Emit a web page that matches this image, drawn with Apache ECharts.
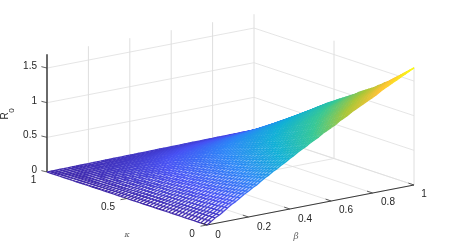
<!DOCTYPE html>
<html>
<head>
<meta charset="utf-8">
<style>html,body{margin:0;padding:0;background:#fff}#c{width:462px;height:252px}</style>
<script src="https://cdn.jsdelivr.net/npm/echarts@6/dist/echarts.min.js"></script>
</head>
<body>
<div id="c"></div>
<script>
// Tick labels
const betaTicks = [0, 0.2, 0.4, 0.6, 0.8, 1];
const kappaTicks = [0, 0.5, 1];
const zTicks = [0, 0.5, 1, 1.5];
const zMax = 1.7;
// Surface height read along the kappa = 0 edge (beta = 0, 0.02, ... 1)
const rAlongBeta = [0,0.04,0.08,0.11,0.15,0.19,0.23,0.26,0.30,0.34,0.37,0.41,0.44,0.48,0.52,0.55,0.59,0.62,0.66,0.69,0.73,0.76,0.80,0.83,0.86,0.90,0.93,0.96,1.00,1.03,1.06,1.09,1.13,1.16,1.19,1.23,1.26,1.29,1.32,1.35,1.38,1.41,1.45,1.48,1.51,1.54,1.57,1.60,1.63,1.66,1.69];
// Surface height read along the beta = 1 edge (kappa = 0, 0.02, ... 1)
const rAlongKappa = [1.69,1.65,1.61,1.57,1.53,1.49,1.45,1.41,1.37,1.34,1.30,1.27,1.23,1.20,1.17,1.14,1.11,1.08,1.04,1.01,0.98,0.95,0.92,0.89,0.86,0.83,0.80,0.77,0.73,0.70,0.66,0.63,0.59,0.56,0.52,0.49,0.45,0.42,0.38,0.35,0.31,0.28,0.25,0.22,0.19,0.16,0.13,0.10,0.07,0.05,0.03];
// Interior heights: the two read edges are combined (the surface scales with both)
const peak = rAlongBeta[rAlongBeta.length - 1];
const height = (i, j) => rAlongBeta[i] * rAlongKappa[j] / peak;
const parula = [[62,38,168],[72,82,244],[45,135,247],[18,177,214],[55,200,151],[171,199,57],[254,195,56],[249,251,21]];

// Orthographic view of the box
const view = { x0: 47, y0: 172, bx: 207, by: -40, kx: 160, ky: 53, zy: 69.3 };
const project = (b, k, z) => [
  view.x0 + view.bx * b + view.kx * (1 - k),
  view.y0 + view.by * b + view.ky * (1 - k) - view.zy * z
];
// Colour level of a mesh point; the picture runs a little bluer along the rear edge
const level = (b, z) => Math.min(1, z / peak + 0.1 * b * (1 - z / peak));
function colour(t) {
  const v = Math.min(1, Math.max(0, t)) * (parula.length - 1);
  const a = Math.min(parula.length - 2, Math.floor(v)), f = v - a;
  const c = parula[a].map((x, n) => Math.round(x + (parula[a + 1][n] - x) * f));
  return 'rgb(' + c.join(',') + ')';
}

const wall = '#dedede', dark = '#3a3a3a';
const lines = [];
const seg = (p, q, color, width) => lines.push({ p, q, color, width });
// Walls and floor
betaTicks.forEach(b => {
  if (b > 0) seg([b, 1, 0], [b, 1, zMax], wall, 1);
  seg([b, 0, 0], [b, 1, 0], wall, 0.8);
});
kappaTicks.forEach(k => {
  if (k < 1) seg([1, k, 0], [1, k, zMax], wall, 1);
  seg([0, k, 0], [1, k, 0], wall, 0.8);
});
zTicks.forEach(z => {
  if (z > 0) seg([0, 1, z], [1, 1, z], wall, 0.8);
  seg([1, 1, z], [1, 0, z], wall, 0.8);
});
seg([0, 1, 0], [0, 1, zMax], '#6a6a6a', 2);
seg([0, 0, 0], [1, 0, 0], dark, 1);

// Mesh segments and cells
const n = rAlongBeta.length;
const mesh = [];
const cells = [];
for (let j = n - 1; j >= 0; j--) {
  for (let i = n - 1; i >= 0; i--) {
    const b = i / (n - 1), k = j / (n - 1), z = height(i, j);
    const b2 = (i + 1) / (n - 1), k2 = (j + 1) / (n - 1);
    if (i < n - 1) mesh.push({ p: [b, k, z], q: [b2, k, height(i + 1, j)] });
    if (j < n - 1) mesh.push({ p: [b, k, z], q: [b, k2, height(i, j + 1)] });
    if (i < n - 1 && j < n - 1) {
      cells.push([[b, k, z], [b2, k, height(i + 1, j)], [b2, k2, height(i + 1, j + 1)], [b, k2, height(i, j + 1)]]);
    }
  }
}

const tick = (p, dx, dy, api) => {
  const a = api.coord(project(...p));
  return { type: 'line', shape: { x1: a[0], y1: a[1], x2: a[0] + dx, y2: a[1] + dy }, style: { stroke: dark, lineWidth: 0.8 } };
};
const ticks = [
  ...zTicks.map(z => [[0, 1, z], -5.6, -1.4]),
  [[0, 0.5, 0], -6.5, 1.2], [[0, 0, 0], -6.5, 1.2],
  ...betaTicks.map(b => [[b, 0, 0], -5.6, -1.9])
];

const labelFont = '10px "Liberation Sans", Arial, sans-serif';
const texts = [
  ...zTicks.map((z, i) => ({ t: String(z), x: 37, y: [170, 135, 101, 66][i], align: 'right' })),
  ...kappaTicks.map((k, i) => ({ t: String(k), x: [192, 108, 33.5][i], y: [234, 207, 180][i] })),
  ...betaTicks.map((b, i) => ({ t: String(b), x: [218, 264, 305, 346, 388, 424][i], y: [235, 227, 219, 210, 202, 194][i] })),
  { t: '\u03ba', x: 127, y: 234.5, font: 'italic 8px "DejaVu Serif", serif', fill: '#666' },
  { t: '\u03b2', x: 296, y: 237, font: 'italic 9px "DejaVu Serif", serif', fill: '#666' },
  { t: 'R', x: 5.5, y: 116, rot: Math.PI / 2 },
  { t: '0', x: 11.5, y: 110.5, rot: Math.PI / 2, font: '8px "Liberation Sans", Arial, sans-serif' }
];

const noAxis = { show: false };
const indices = arr => arr.map((_, i) => [i]);
const segItem = (s, api, style) => {
  const a = api.coord(project(...s.p)), b = api.coord(project(...s.q));
  return { type: 'line', shape: { x1: a[0], y1: a[1], x2: b[0], y2: b[1] }, style };
};
const custom = (data, renderItem, z) => ({
  type: 'custom', data, renderItem, z, silent: true, animation: false, clip: false, progressive: 0,
  encode: { x: 0, y: 0 }
});

const chart = echarts.init(document.getElementById('c'), null, { renderer: 'canvas' });
chart.setOption({
  animation: false,
  backgroundColor: '#fff',
  grid: { left: 0, right: 0, top: 0, bottom: 0 },
  xAxis: { type: 'value', min: 0, max: 462, ...noAxis },
  yAxis: { type: 'value', min: 0, max: 252, inverse: true, ...noAxis },
  series: [
    custom(indices(lines), (p, api) => {
      const s = lines[p.dataIndex];
      return segItem(s, api, { stroke: s.color, lineWidth: s.width });
    }, 1),
    custom(indices(cells), (p, api) => {
      const c = cells[p.dataIndex];
      const t = level(c[0][0], c[0][2]);
      return {
        type: 'group',
        children: [
          { type: 'polygon', shape: { points: c.map(o => api.coord(project(...o))) }, style: { fill: '#fff', stroke: '#fff', lineWidth: 0.5 } },
          { type: 'polygon', shape: { points: c.map(o => api.coord(project(...o))) }, style: { fill: colour(t), opacity: Math.min(0.9, t * 1.6) } }
        ]
      };
    }, 2),
    custom(indices(mesh), (p, api) => {
      const s = mesh[p.dataIndex];
      return segItem(s, api, { stroke: colour(level((s.p[0] + s.q[0]) / 2, (s.p[2] + s.q[2]) / 2)), lineWidth: 1.25 });
    }, 3),
    custom(indices(ticks), (p, api) => {
      const t = ticks[p.dataIndex];
      return tick(t[0], t[1], t[2], api);
    }, 4),
    custom(indices(texts), (p, api) => {
      const t = texts[p.dataIndex];
      const c = api.coord([t.x, t.y]);
      return {
        type: 'text', x: c[0], y: c[1], rotation: t.rot || 0,
        style: { text: t.t, x: 0, y: 0, font: t.font || labelFont, fill: t.fill || '#262626', align: t.align || 'center', verticalAlign: 'middle' }
      };
    }, 5)
  ]
});
</script>
</body>
</html>
